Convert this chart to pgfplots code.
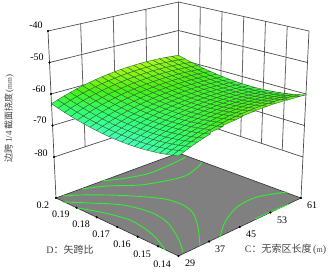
\documentclass[border=0pt]{standalone}
\usepackage{fontspec}
\setmainfont{Liberation Serif}
\newfontfamily\cjk{Noto Sans CJK SC}
\usepackage{pgfplots}
\pgfplotsset{compat=1.18}
% projection: C (29..61), D (0.14..0.20), Z (floor at -93, top at -40) to picture position
\pgfmathdeclarefunction{px}{3}{\pgfmathparse{178.5+(((#1)-29)/32-((#2)-0.14)/0.06)*(122.5+8*((#3)+93)/53)}}
\pgfmathdeclarefunction{py}{3}{\pgfmathparse{(1-((#3)+93)/53)*(256-58*(((#1)-29)/32+((#2)-0.14)/0.06)+13*((#1)-29)/32*((#2)-0.14)/0.06)+(((#3)+93)/53)*(68.6-37.6*(((#1)-29)/32+((#2)-0.14)/0.06)+8.6*((#1)-29)/32*((#2)-0.14)/0.06)}}
\definecolor{wallc}{HTML}{666666}
\definecolor{contc}{HTML}{30F030}
\definecolor{gridc}{HTML}{2F5F35}
\definecolor{labc}{HTML}{444444}
\begin{document}
\begin{tikzpicture}
\begin{axis}[
 scale only axis, width=330pt, height=273pt,
 xmin=0, xmax=330, ymin=0, ymax=273, y dir=reverse,
 axis lines=none, clip=false, empty line=jump,
 colormap={sc}{rgb255=(70,255,190) rgb255=(50,255,110) rgb255=(70,240,20) rgb255=(175,250,20)},
 point meta min=-67, point meta max=-57.8,
 every node/.style={font=\fontsize{11.5}{12}\selectfont, inner sep=0pt},
]
% walls
\addplot[wallc, line width=0.8pt, no marks] table[x expr={px(\thisrow{C},\thisrow{D},\thisrow{Z})}, y expr={py(\thisrow{C},\thisrow{D},\thisrow{Z})}] {
C D Z
37 0.2 -40
37 0.2 -80

45 0.2 -40
45 0.2 -80

53 0.2 -40
53 0.2 -80

61 0.2 -40
61 0.2 -80

61 0.19 -40
61 0.19 -80

61 0.18 -40
61 0.18 -80

61 0.17 -40
61 0.17 -80

61 0.16 -40
61 0.16 -80

61 0.15 -40
61 0.15 -80
};
\addplot[black!70, line width=0.7pt, no marks] table[x expr={px(\thisrow{C},\thisrow{D},\thisrow{Z})}, y expr={py(\thisrow{C},\thisrow{D},\thisrow{Z})}] {
C D Z
29 0.2 -40
29 0.2 -93

61 0.14 -40
61 0.14 -93

29 0.2 -40
61 0.2 -40
61 0.14 -40

29 0.2 -50
61 0.2 -50
61 0.14 -50

29 0.2 -60
61 0.2 -60
61 0.14 -60

29 0.2 -70
61 0.2 -70
61 0.14 -70

29 0.2 -80
61 0.2 -80
61 0.14 -80
};
% floor
\addplot[fill=black!50, draw=black!80, line width=0.6pt, no marks] table[x expr={px(\thisrow{C},\thisrow{D},\thisrow{Z})}, y expr={py(\thisrow{C},\thisrow{D},\thisrow{Z})}] {
C D Z
29 0.14 -93
61 0.14 -93
61 0.2 -93
29 0.2 -93
29 0.14 -93
};
% contours on the floor
\addplot[contc, line width=0.9pt, smooth, no marks] coordinates {(101,181) (120,179) (147,174) (165,167) (178,161) (186,157)};
\addplot[contc, line width=0.9pt, smooth, no marks] coordinates {(82,189) (107,186) (140,185) (165,181) (185,176) (198,167) (202,162)};
\addplot[contc, line width=0.9pt, smooth, no marks] coordinates {(63,196) (80,195) (107,195) (133,196) (165,199) (183,205) (193,213) (198,227) (200,246)};
\addplot[contc, line width=0.9pt, smooth, no marks] coordinates {(62,202) (90,203) (123,205) (150,212) (167,222) (178,238) (183,252)};
\addplot[contc, line width=0.9pt, smooth, no marks] coordinates {(78,208) (105,213) (130,220) (147,230) (157,239) (165,250)};
\addplot[contc, line width=0.9pt, smooth, no marks] coordinates {(220,237) (225,222) (237,207) (257,197) (287,192)};
\addplot[contc, line width=0.9pt, smooth, no marks] coordinates {(255,219) (270,212) (289,204)};
% tick dots
\addplot[only marks, mark=*, mark size=0.9pt, black] table[x expr={px(\thisrow{C},\thisrow{D},\thisrow{Z})}, y expr={py(\thisrow{C},\thisrow{D},\thisrow{Z})}] {
C D Z
29 0.2 -40
29 0.2 -50
29 0.2 -60
29 0.2 -70
29 0.2 -80
29 0.2 -93
29 0.19 -93
29 0.18 -93
29 0.17 -93
29 0.16 -93
29 0.15 -93
29 0.14 -93
37 0.14 -93
45 0.14 -93
53 0.14 -93
61 0.14 -93
};
% response surface: 21 rows (C = 29 ... 61), 21 values each (D = 0.14 ... 0.20)
\addplot[surf, shader=faceted, faceted color=gridc, line width=0.35pt, mesh/rows=21, mesh/cols=21, point meta=\thisrowno{0}] table[header=false,
 x expr={px(29+1.6*floor(\coordindex/21),0.14+0.003*mod(\coordindex,21),\thisrowno{0})},
 y expr={py(29+1.6*floor(\coordindex/21),0.14+0.003*mod(\coordindex,21),\thisrowno{0})}] {
-64.70
-65.17
-65.58
-65.93
-66.22
-66.46
-66.64
-66.76
-66.82
-66.83
-66.77
-66.66
-66.50
-66.27
-65.99
-65.65
-65.26
-64.80
-64.29
-63.72
-63.09
-64.01
-64.48
-64.89
-65.24
-65.53
-65.77
-65.95
-66.07
-66.13
-66.14
-66.08
-65.97
-65.81
-65.58
-65.30
-64.96
-64.57
-64.11
-63.60
-63.03
-62.40
-63.36
-63.83
-64.24
-64.59
-64.88
-65.12
-65.30
-65.42
-65.48
-65.49
-65.43
-65.32
-65.16
-64.93
-64.65
-64.31
-63.92
-63.46
-62.95
-62.38
-61.75
-62.77
-63.24
-63.65
-64.00
-64.29
-64.53
-64.71
-64.83
-64.89
-64.90
-64.84
-64.73
-64.57
-64.34
-64.06
-63.72
-63.33
-62.87
-62.36
-61.79
-61.16
-62.22
-62.69
-63.10
-63.45
-63.74
-63.98
-64.16
-64.28
-64.34
-64.35
-64.29
-64.18
-64.02
-63.79
-63.51
-63.17
-62.78
-62.32
-61.81
-61.24
-60.61
-61.73
-62.20
-62.61
-62.96
-63.25
-63.49
-63.67
-63.79
-63.85
-63.86
-63.80
-63.69
-63.53
-63.30
-63.02
-62.68
-62.29
-61.83
-61.32
-60.75
-60.12
-61.28
-61.75
-62.16
-62.51
-62.80
-63.04
-63.22
-63.34
-63.40
-63.41
-63.35
-63.24
-63.08
-62.85
-62.57
-62.23
-61.84
-61.38
-60.87
-60.30
-59.67
-60.89
-61.36
-61.77
-62.12
-62.41
-62.65
-62.83
-62.95
-63.01
-63.02
-62.96
-62.85
-62.69
-62.46
-62.18
-61.84
-61.45
-60.99
-60.48
-59.91
-59.28
-60.54
-61.01
-61.42
-61.77
-62.06
-62.30
-62.48
-62.60
-62.66
-62.67
-62.61
-62.50
-62.34
-62.11
-61.83
-61.49
-61.10
-60.64
-60.13
-59.56
-58.93
-60.25
-60.72
-61.13
-61.48
-61.77
-62.01
-62.19
-62.31
-62.37
-62.38
-62.32
-62.21
-62.05
-61.82
-61.54
-61.20
-60.81
-60.35
-59.84
-59.27
-58.64
-60.00
-60.47
-60.88
-61.23
-61.52
-61.76
-61.94
-62.06
-62.12
-62.13
-62.07
-61.96
-61.80
-61.57
-61.29
-60.95
-60.56
-60.10
-59.59
-59.02
-58.39
-59.81
-60.28
-60.69
-61.04
-61.33
-61.57
-61.75
-61.87
-61.93
-61.94
-61.88
-61.77
-61.61
-61.38
-61.10
-60.76
-60.37
-59.91
-59.40
-58.83
-58.20
-59.66
-60.13
-60.54
-60.89
-61.18
-61.42
-61.60
-61.72
-61.78
-61.79
-61.73
-61.62
-61.46
-61.23
-60.95
-60.61
-60.22
-59.76
-59.25
-58.68
-58.05
-59.57
-60.04
-60.45
-60.80
-61.09
-61.33
-61.51
-61.63
-61.69
-61.70
-61.64
-61.53
-61.37
-61.14
-60.86
-60.52
-60.13
-59.67
-59.16
-58.59
-57.96
-59.52
-59.99
-60.40
-60.75
-61.04
-61.28
-61.46
-61.58
-61.64
-61.65
-61.59
-61.48
-61.32
-61.09
-60.81
-60.47
-60.08
-59.62
-59.11
-58.54
-57.91
-59.53
-60.00
-60.41
-60.76
-61.05
-61.29
-61.47
-61.59
-61.65
-61.66
-61.60
-61.49
-61.33
-61.10
-60.82
-60.48
-60.09
-59.63
-59.12
-58.55
-57.92
-59.58
-60.05
-60.46
-60.81
-61.10
-61.34
-61.52
-61.64
-61.70
-61.71
-61.65
-61.54
-61.38
-61.15
-60.87
-60.53
-60.14
-59.68
-59.17
-58.60
-57.97
-59.69
-60.16
-60.57
-60.92
-61.21
-61.45
-61.63
-61.75
-61.81
-61.82
-61.76
-61.65
-61.49
-61.26
-60.98
-60.64
-60.25
-59.79
-59.28
-58.71
-58.08
-59.84
-60.31
-60.72
-61.07
-61.36
-61.60
-61.78
-61.90
-61.96
-61.97
-61.91
-61.80
-61.64
-61.41
-61.13
-60.79
-60.40
-59.94
-59.43
-58.86
-58.23
-60.05
-60.52
-60.93
-61.28
-61.57
-61.81
-61.99
-62.11
-62.17
-62.18
-62.12
-62.01
-61.85
-61.62
-61.34
-61.00
-60.61
-60.15
-59.64
-59.07
-58.44
-60.30
-60.77
-61.18
-61.53
-61.82
-62.06
-62.24
-62.36
-62.42
-62.43
-62.37
-62.26
-62.10
-61.87
-61.59
-61.25
-60.86
-60.40
-59.89
-59.32
-58.69
};
% text
\node at (axis cs:36,25) {-40};
\node at (axis cs:37,57) {-50};
\node at (axis cs:39,89) {-60};
\node at (axis cs:40,120) {-70};
\node at (axis cs:41,153) {-80};
\node at (axis cs:43,205) {0.2};
\node at (axis cs:61,214) {0.19};
\node at (axis cs:81,224) {0.18};
\node at (axis cs:101,234) {0.17};
\node at (axis cs:122,244) {0.16};
\node at (axis cs:142,254) {0.15};
\node at (axis cs:162,264) {0.14};
\node at (axis cs:190,263) {29};
\node at (axis cs:220,249) {37};
\node at (axis cs:251,234) {45};
\node at (axis cs:282,220) {53};
\node at (axis cs:312,205) {61};
\node[text=labc, font=\fontsize{10}{11}\selectfont] at (axis cs:70,250) {D{\cjk ：矢跨比}};
\node[text=labc, font=\fontsize{10}{11}\selectfont] at (axis cs:285.5,249) {C{\cjk ：无索区长度}\,({\fontsize{8}{9}\selectfont m})};
\node[text=labc, font=\fontsize{9}{10}\selectfont, rotate=90] at (axis cs:9,118.5) {{\cjk 边跨}\,1/4\,{\cjk 截面挠度}\,({\fontsize{7.5}{9}\selectfont mm})};
\draw[draw=none] (axis cs:0,0) rectangle (axis cs:330,273);
\end{axis}
\end{tikzpicture}
\end{document}
